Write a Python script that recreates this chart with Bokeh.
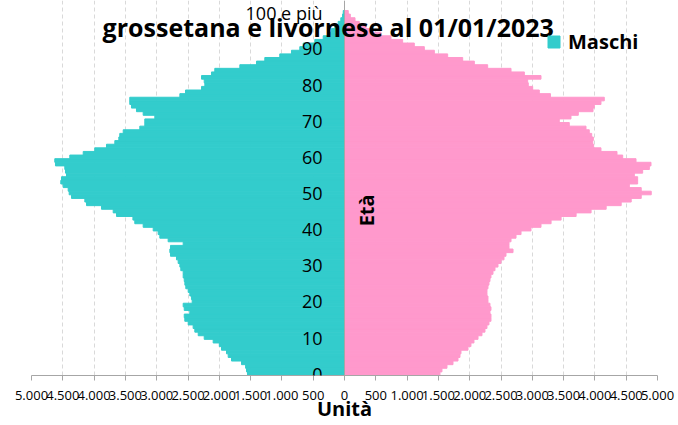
import math
from bokeh.plotting import figure
from bokeh.models import Range1d, FixedTicker, Label, Legend, LegendItem, ColumnDataSource
from bokeh.embed import file_html
from bokeh.resources import INLINE

ages = list(range(101))
maschi = [1550, 1565, 1580, 1645, 1805, 1858, 1885, 1965, 2000, 2098,
          2241, 2337, 2391, 2418, 2497, 2551, 2560, 2471, 2560, 2577,
          2433, 2445, 2471, 2497, 2535, 2550, 2560, 2577, 2577, 2615,
          2630, 2657, 2684, 2780, 2790, 2780, 2577, 2817, 2950, 2977,
          3056, 3216, 3350, 3380, 3642, 3695, 3882, 4121, 4148, 4361,
          4398, 4414, 4494, 4532, 4521, 4441, 4457, 4468, 4617, 4628,
          4388, 4174, 3989, 3802, 3669, 3605, 3590, 3535, 3270, 3190,
          3190, 3030, 3216, 3323, 3403, 3430, 3430, 2630, 2540, 2284,
          2231, 2241, 2284, 2125, 2072, 1672, 1406, 1273, 1034, 847,
          714, 660, 474, 340, 260, 208, 155, 101, 59, 32,
          20]
femmine = [1525, 1557, 1637, 1733, 1813, 1845, 1861, 1973, 2020, 2068,
           2133, 2196, 2244, 2276, 2308, 2340, 2340, 2324, 2340, 2324,
           2292, 2292, 2276, 2276, 2292, 2308, 2324, 2340, 2372, 2404,
           2452, 2500, 2548, 2580, 2692, 2628, 2628, 2660, 2740, 2820,
           2979, 3139, 3300, 3460, 3700, 3939, 4180, 4420, 4580, 4740,
           4900, 4740, 4550, 4683, 4683, 4630, 4763, 4870, 4896, 4657,
           4444, 4353, 4097, 3980, 3965, 3975, 3949, 3910, 3858, 3591,
           3431, 3618, 3735, 3970, 3990, 4097, 4150, 3290, 3112, 3006,
           2936, 2926, 3139, 2873, 2660, 2287, 2074, 1888, 1648, 1435,
           1275, 1115, 929, 743, 583, 450, 343, 236, 168, 93,
           60]

y_ticks = [0, 10, 20, 30, 40, 50, 60, 70, 80, 90, 100]
y_tick_labels = ["0", "10", "20", "30", "40", "50", "60", "70", "80", "90", "100 e più"]
x_ticks = [-5000, -4500, -4000, -3500, -3000, -2500, -2000, -1500, -1000, -500, 0,
           500, 1000, 1500, 2000, 2500, 3000, 3500, 4000, 4500, 5000]
x_tick_labels = ["5.000", "4.500", "4.000", "3.500", "3.000", "2.500", "2.000", "1.500",
                 "1.000", "500", "0", "500", "1.000", "1.500", "2.000", "2.500",
                 "3.000", "3.500", "4.000", "4.500", "5.000"]

title_text = "grossetana e livornese al 01/01/2023"
serie_m = "Maschi"
asse_y = "Età"
asse_x = "Unità"

src = ColumnDataSource(dict(age=ages,
                            m_left=[-v for v in maschi],
                            zero=[0] * len(ages),
                            f=femmine))

p = figure(width=678, height=425, output_backend="svg", toolbar_location=None,
           x_range=Range1d(-5000, 5000), y_range=Range1d(-0.5, 103.27),
           min_border_left=31, min_border_right=21, min_border_top=0,
           min_border_bottom=50)
p.outline_line_color = None
p.background_fill_color = "white"
p.border_fill_color = "white"

CYAN = "#33CCCC"
PINK = "#FF99CC"
rm = p.hbar(y="age", left="m_left", right="zero", height=1, source=src,
            fill_color=CYAN, line_color=CYAN, line_width=1)
rf = p.hbar(y="age", left="zero", right="f", height=1, source=src,
            fill_color=PINK, line_color=PINK, line_width=1)

AX = "#A6A6A6"
xa = p.xaxis[0]
xa.ticker = FixedTicker(ticks=x_ticks)
xa.major_label_overrides = {t: l for t, l in zip(x_ticks, x_tick_labels)}
xa.axis_line_color = AX
xa.major_tick_line_color = AX
xa.major_tick_out = 5
xa.major_tick_in = 0
xa.minor_tick_line_color = None
xa.major_label_text_font = "Open Sans"
xa.major_label_text_font_size = "13px"
xa.major_label_text_color = "black"
xa.major_label_standoff = 10
xa.axis_label = asse_x
xa.axis_label_text_font = "Open Sans"
xa.axis_label_text_font_style = "bold"
xa.axis_label_text_font_size = "20px"
xa.axis_label_text_color = "black"
xa.axis_label_standoff = -8

ya = p.yaxis[0]
ya.fixed_location = 0
ya.ticker = FixedTicker(ticks=y_ticks)
ya.major_label_overrides = {t: l for t, l in zip(y_ticks, y_tick_labels)}
ya.axis_line_color = AX
ya.major_tick_line_color = None
ya.minor_tick_line_color = None
ya.major_tick_out = 0
ya.major_tick_in = 0
ya.major_label_standoff = 22
ya.major_label_text_font = "Open Sans"
ya.major_label_text_font_size = "18px"
ya.major_label_text_color = "black"

p.xgrid.ticker = FixedTicker(ticks=x_ticks)
p.xgrid.grid_line_color = "#D9D9D9"
p.xgrid.grid_line_dash = "4 3"
p.ygrid.grid_line_color = None

legend = Legend(items=[LegendItem(label=serie_m, renderers=[rm])], location=(515, 320))
legend.glyph_width = 15
legend.glyph_height = 15
legend.label_height = 15
legend.label_standoff = 7
legend.padding = 0
legend.margin = 0
legend.border_line_color = None
legend.background_fill_alpha = 0
legend.label_text_font = "Open Sans"
legend.label_text_font_style = "bold"
legend.label_text_font_size = "20px"
legend.label_text_color = "black"
p.add_layout(legend)

p.add_layout(Label(x=-260, y=96.0, text=title_text, text_align="center",
                   text_baseline="alphabetic", text_font="Open Sans",
                   text_font_style="bold", text_font_size="25px", text_color="black"))
p.add_layout(Label(x=351, y=45.2, text=asse_y, angle=math.pi / 2, text_align="center",
                   text_baseline="middle", text_font="Open Sans",
                   text_font_style="bold", text_font_size="20px", text_color="black"))

open("out.html", "w").write(file_html(p, INLINE))
